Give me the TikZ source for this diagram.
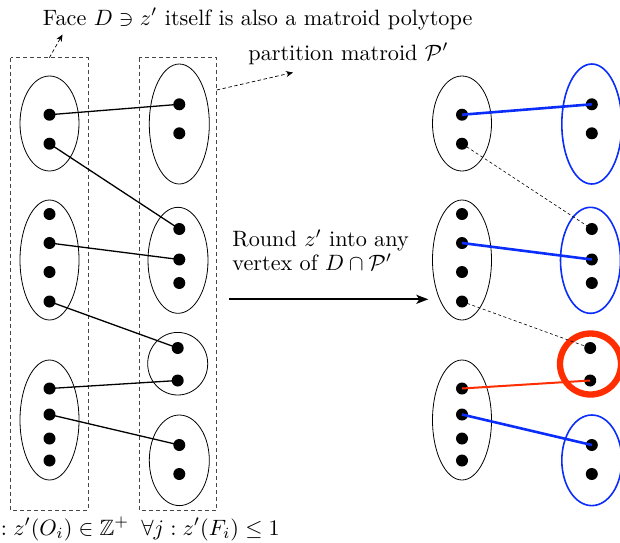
\RequirePackage{fix-cm}
\documentclass[tikz,border=0pt]{standalone}
\usepackage{amssymb}
\usetikzlibrary{arrows.meta}
\definecolor{eblue}{RGB}{10,45,250}
\definecolor{ered}{RGB}{255,45,0}
\definecolor{boxgray}{RGB}{70,70,70}
\tikzset{
  dot/.style={circle,fill=black,inner sep=0pt,minimum size=12pt},
  grp/.style={draw=black,line width=0.8pt},
  bgrp/.style={draw=eblue,line width=1.6pt},
  frame/.style={draw=boxgray,line width=0.9pt,dash pattern=on 4pt off 3pt},
  edge/.style={draw=black,line width=1.3pt},
  bedge/.style={draw=eblue,line width=2.6pt},
  redge/.style={draw=ered,line width=2pt},
  dedge/.style={draw=black,line width=0.6pt,dash pattern=on 3pt off 2.5pt},
  txt/.style={anchor=base west,inner sep=0pt,scale=2.22},
  note/.style={draw=black,line width=0.7pt,dash pattern=on 3.5pt off 2.5pt,-{Stealth[length=7pt,width=6pt]}},
  bigarrow/.style={draw=black,line width=1.8pt,-{Stealth[length=12pt,width=9pt,inset=3pt]}},
}
\begin{document}
\begin{tikzpicture}[x=1pt,y=-1pt]
\useasboundingbox (0,0) rectangle (620,542);

% frames
\draw[frame] (10.7,57.7) rectangle (88,510);
\draw[frame] (139,57.7) rectangle (216.7,510);

% left ellipses
\draw[grp] (49.5,123.5) ellipse [x radius=29.5pt, y radius=47.5pt];
\draw[grp] (49.5,260) ellipse [x radius=29.5pt, y radius=60pt];
\draw[grp] (49.5,420) ellipse [x radius=29.5pt, y radius=60pt];
\draw[grp] (179.3,124) ellipse [x radius=30pt, y radius=60pt];
\draw[grp] (178,260.3) ellipse [x radius=30pt, y radius=53pt];
\draw[grp] (177.7,363.7) ellipse [x radius=30pt, y radius=31.3pt];
\draw[grp] (179.3,460.3) ellipse [x radius=30pt, y radius=45.3pt];

% right ellipses
\draw[grp] (462,123.5) ellipse [x radius=29.5pt, y radius=47.5pt];
\draw[grp] (462,260) ellipse [x radius=29.5pt, y radius=60pt];
\draw[grp] (462,420) ellipse [x radius=29.5pt, y radius=60pt];
\draw[bgrp] (591.8,124) ellipse [x radius=30pt, y radius=60pt];
\draw[bgrp] (590.5,260.3) ellipse [x radius=30pt, y radius=53pt];
\draw[draw=ered,line width=6.3pt] (590.5,364) circle [radius=30.5pt];
\draw[bgrp] (591.8,460.3) ellipse [x radius=30pt, y radius=45.3pt];

% left dots
\node[dot] (a11) at (49.5,114.7) {};
\node[dot] (a12) at (49.5,143.7) {};
\node[dot] (a21) at (49.5,214) {};
\node[dot] (a22) at (49.5,243) {};
\node[dot] (a23) at (49.5,272) {};
\node[dot] (a24) at (49.5,301.5) {};
\node[dot] (a31) at (49.5,388.5) {};
\node[dot] (a32) at (49.5,414.5) {};
\node[dot] (a33) at (49.5,438.5) {};
\node[dot] (a34) at (49.5,460.5) {};
\node[dot] (b11) at (179.3,104.3) {};
\node[dot] (b12) at (179.3,133.3) {};
\node[dot] (b21) at (179.3,229) {};
\node[dot] (b22) at (179.3,259.5) {};
\node[dot] (b23) at (179.3,283) {};
\node[dot] (b31) at (177.7,348) {};
\node[dot] (b32) at (177.7,380.5) {};
\node[dot] (b41) at (179.3,445) {};
\node[dot] (b42) at (179.3,474) {};

% right dots
\node[dot] (c11) at (462,114.7) {};
\node[dot] (c12) at (462,143.7) {};
\node[dot] (c21) at (462,214) {};
\node[dot] (c22) at (462,243) {};
\node[dot] (c23) at (462,272) {};
\node[dot] (c24) at (462,301.5) {};
\node[dot] (c31) at (462,388.5) {};
\node[dot] (c32) at (462,414.5) {};
\node[dot] (c33) at (462,438.5) {};
\node[dot] (c34) at (462,460.5) {};
\node[dot] (d11) at (591.8,104.3) {};
\node[dot] (d12) at (591.8,133.3) {};
\node[dot] (d21) at (591.8,229) {};
\node[dot] (d22) at (591.8,259.5) {};
\node[dot] (d23) at (591.8,283) {};
\node[dot] (d31) at (590.2,348) {};
\node[dot] (d32) at (590.2,380.5) {};
\node[dot] (d41) at (591.8,445) {};
\node[dot] (d42) at (591.8,474) {};

% left edges
\draw[edge] (a11.center) -- (b11.center);
\draw[edge] (a12.center) -- (b21.center);
\draw[edge] (a22.center) -- (b22.center);
\draw[edge] (a24.center) -- (b31.center);
\draw[edge] (a31.center) -- (b32.center);
\draw[edge] (a32.center) -- (b41.center);

% right edges
\draw[bedge] (c11.center) -- (d11.center);
\draw[dedge] (c12.center) -- (d21.center);
\draw[bedge] (c22.center) -- (d22.center);
\draw[dedge] (c24.center) -- (d31.center);
\draw[redge] (c31.center) -- (d32.center);
\draw[bedge] (c32.center) -- (d41.center);

% texts
\node[txt] (face) at (42.5,25) {Face $D\ni z'$ itself is also a matroid polytope};
\node[txt] (part) at (248,60) {partition matroid $\mathcal{P}'$};
\node[txt,anchor=north west,align=left,font=\fontsize{10}{11}\selectfont] (round) at (232,229) {Round $z'$ into any\\vertex of $D\cap\mathcal{P}'$};
\node[txt] (cond) at (0.5,535) {$: z'(O_i)\in\mathbb{Z}^+\;\;\forall j : z'(F_i)\leq 1$};

% annotation arrows
\coordinate (f1) at (49.4,57.7);
\coordinate (f2) at (62.5,34.5);
\draw[note] (f1) -- (f2);
\coordinate (p1) at (216.7,90);
\coordinate (p2) at (293,72.5);
\draw[note] (p1) -- (p2);

% main arrow
\coordinate (arrS) at (229.3,299.3);
\coordinate (arrE) at (428.3,299.3);
\draw[bigarrow] (arrS) -- (arrE);
\end{tikzpicture}
\end{document}
